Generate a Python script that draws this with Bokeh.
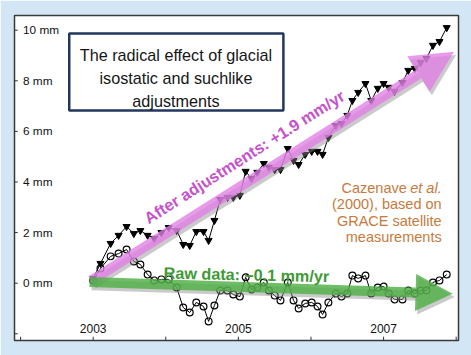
from bokeh.plotting import figure
from bokeh.models import Arrow, NormalHead, BoxAnnotation, Label
from bokeh.core.properties import value
from bokeh.embed import file_html
from bokeh.resources import INLINE

# ---------------- data ----------------
years = [2003.00, 2003.10, 2003.24, 2003.35, 2003.46, 2003.56, 2003.65, 2003.75,
         2003.84, 2003.94, 2004.04, 2004.15, 2004.24, 2004.33, 2004.42, 2004.52,
         2004.59, 2004.67, 2004.75, 2004.85, 2004.93, 2005.02, 2005.10, 2005.18,
         2005.26, 2005.35, 2005.42, 2005.50, 2005.58, 2005.68, 2005.76, 2005.83,
         2005.92, 2006.01, 2006.09, 2006.16, 2006.24, 2006.34, 2006.42, 2006.50,
         2006.57, 2006.65, 2006.75, 2006.83, 2006.92, 2007.00, 2007.07, 2007.15,
         2007.26, 2007.34, 2007.43, 2007.51, 2007.59, 2007.68, 2007.77, 2007.87]

raw_mm = [0.11, 0.58, 1.06, 1.17, 1.33, 0.86, 0.74, 0.34,
          0.11, 0.15, 0.15, -0.17, -0.96, -1.16, -0.76, -0.92,
          -1.51, -0.88, -0.29, -0.29, -0.45, -0.53, 0.23, -0.25,
          -0.17, 0.03, -0.29, -0.49, -0.68, 0.03, -0.68, -1.00,
          -0.80, -0.76, -0.92, -1.24, -0.76, -0.41, -0.53, -0.41,
          0.30, 0.19, 0.30, -0.41, -0.17, -0.13, -0.41, -0.64,
          -0.64, -0.29, -0.41, -0.29, -0.29, 0.03, 0.11, 0.34]

adjusted_mm = [0.19, 0.78, 1.57, 1.89, 2.24, 1.96, 2.08, 1.89,
               1.77, 2.00, 2.20, 2.08, 1.53, 1.49, 2.04, 2.04,
               1.69, 2.48, 3.31, 3.39, 3.39, 3.47, 4.42, 4.14,
               4.38, 4.73, 4.58, 4.49, 4.49, 5.32, 4.85, 4.69,
               5.09, 5.21, 5.21, 5.09, 5.76, 6.23, 6.31, 6.63,
               7.22, 7.54, 7.89, 7.22, 7.70, 7.89, 7.74, 7.58,
               7.93, 8.41, 8.49, 8.72, 8.88, 9.40, 9.55, 10.10]

ytick_values = [-2, 0, 2, 4, 6, 8, 10]
ylabel_values = [0, 2, 4, 6, 8, 10]
ylabel_text = ["0 mm", "2 mm", "4 mm", "6 mm", "8 mm", "10 mm"]
xtick_values = [2002, 2003, 2004, 2005, 2006, 2007, 2008]
xlabel_values = [2003, 2005, 2007]
xlabel_text = ["2003", "2005", "2007"]

title_lines = ["The radical effect of glacial", "isostatic and suchlike", "adjustments"]
adjusted_label = "After adjustments: +1.9 mm/yr"
raw_label = "Raw data: \u20130.1 mm/yr"
source_lines = ["(2000), based on", "GRACE satellite", "measurements"]

# ---------------- styling / layout ----------------
SANS = "Liberation Sans"
X0, X1 = 2001.916, 2008.032
Y0, Y1 = -2.265, 10.58

p = figure(width=471, height=355, x_range=(X0, X1), y_range=(Y0, Y1),
           output_backend="svg", toolbar_location=None,
           min_border_left=14, min_border_right=13, min_border_top=15, min_border_bottom=15)
p.border_fill_color = "#d2e6f5"
p.background_fill_color = "white"
p.outline_line_color = "#3a3a3a"
p.outline_line_width = 1.5
p.xgrid.visible = False
p.ygrid.visible = False
p.axis.visible = False

# inward tick marks at the frame edges
nx, ny = len(xtick_values), len(ytick_values)
p.segment(x0=xtick_values, y0=[Y0] * nx, x1=xtick_values, y1=[Y0 + 0.15] * nx,
          line_color="#333333", line_width=1)
p.segment(x0=[X0] * ny, y0=ytick_values, x1=[X0 + 0.045] * ny, y1=ytick_values,
          line_color="#333333", line_width=1)

# tick labels drawn inside the frame
p.text(x=[X0] * len(ylabel_values), y=ylabel_values, text=ylabel_text,
       x_offset=8.5, text_baseline="middle", text_align="left",
       text_font=value(SANS), text_font_size="11.8px", text_color="#111111")
p.text(x=xlabel_values, y=[Y0] * len(xlabel_values), text=xlabel_text,
       y_offset=-12, text_baseline="alphabetic", text_align="center",
       text_font=value(SANS), text_font_size="12px", text_color="#111111")

# data series
p.line(years, adjusted_mm, line_color="black", line_width=1)
p.scatter(years, adjusted_mm, marker="inverted_triangle", size=7,
          fill_color="black", line_color="black")
p.line(years, raw_mm, line_color="black", line_width=1)
p.scatter(years, raw_mm, marker="circle", size=6.8, fill_color=None,
          line_color="black", line_width=1.2)

# trend arrows (shadow + arrow)
def add_arrow(x0, y0, x1, y1, color, alpha, width, head):
    p.add_layout(Arrow(x_start=x0 + 0.03, y_start=y0 - 0.13, x_end=x1 + 0.03, y_end=y1 - 0.13,
                       line_color="#8a8a8a", line_alpha=0.45, line_width=width,
                       end=NormalHead(size=head, fill_color="#8a8a8a", fill_alpha=0.45,
                                      line_color=None)))
    p.add_layout(Arrow(x_start=x0, y_start=y0, x_end=x1, y_end=y1,
                       line_color=color, line_alpha=alpha, line_width=width,
                       end=NormalHead(size=head, fill_color=color, fill_alpha=alpha,
                                      line_color=None)))

add_arrow(2002.97, 0.10, 2007.97, 9.15, "#e27fe6", 0.78, 10, 42)
add_arrow(2002.95, 0.05, 2007.95, -0.42, "#4fae45", 0.82, 10, 37)

# arrow texts
p.add_layout(Label(x=2005.08, y=5.0, text=adjusted_label, angle=0.566,
                   text_align="center", text_baseline="alphabetic",
                   text_font=SANS, text_font_style="bold",
                   text_font_size="16.3px", text_color="#c652cb"))
p.add_layout(Label(x=2003.97, y=0.42, text=raw_label, angle=-0.022,
                   text_align="left", text_baseline="alphabetic",
                   text_font=SANS, text_font_style="bold",
                   text_font_size="16.2px", text_color="#3f9a35"))

# title box
p.add_layout(BoxAnnotation(left=2002.67, right=2005.62, bottom=6.83, top=9.87,
                           fill_color="white", fill_alpha=1.0,
                           line_color="#22375e", line_alpha=1.0, line_width=2.5,
                           level="annotation"))
for t, yy in zip(title_lines, [9.02, 8.12, 7.22]):
    p.add_layout(Label(x=2004.14, y=yy, text=t, text_align="center",
                       text_baseline="alphabetic", text_font=SANS,
                       text_font_size="16.2px", text_color="#161616"))

# source note
ORANGE = "#c77a3c"
p.add_layout(Label(x=2007.32, y=3.78, text="Cazenave", text_align="right",
                   text_baseline="alphabetic", text_font=SANS,
                   text_font_size="14.5px", text_color=ORANGE))
p.add_layout(Label(x=2007.80, y=3.78, text="et al.", text_align="right",
                   text_baseline="alphabetic", text_font=SANS, text_font_style="italic",
                   text_font_size="14.5px", text_color=ORANGE))
for t, yy in zip(source_lines, [3.14, 2.45, 1.82]):
    p.add_layout(Label(x=2007.80, y=yy, text=t, text_align="right",
                       text_baseline="alphabetic", text_font=SANS,
                       text_font_size="14.5px", text_color=ORANGE))

open("out.html", "w").write(file_html(p, INLINE))
